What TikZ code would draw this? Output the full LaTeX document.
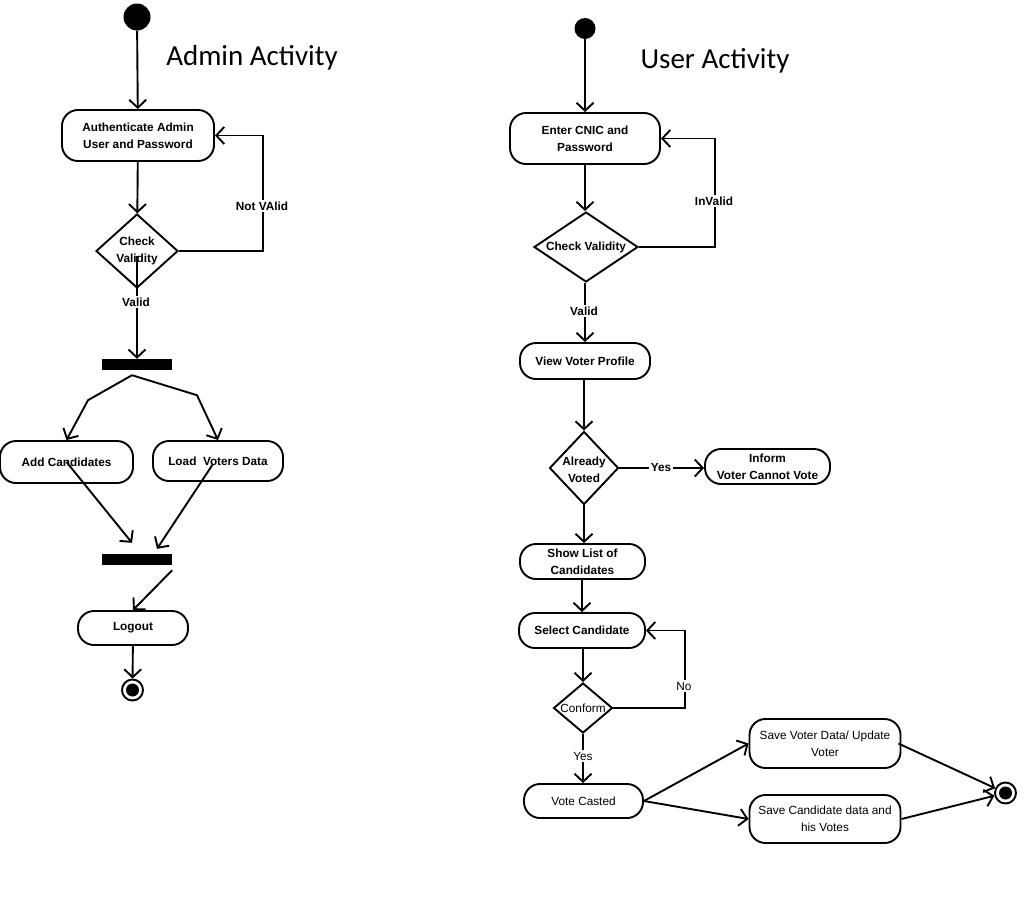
\documentclass[tikz,border=0pt]{standalone}
\usepackage{fontspec}
\setmainfont{Liberation Sans}
\newfontfamily\titlefont{Carlito}
\usetikzlibrary{arrows.meta,shapes.geometric,calc}
\newcommand\dlblfont{\fontsize{11.8}{17}\selectfont}
\begin{document}
\begin{tikzpicture}[x=1pt,y=-1pt,
  lw/.style={line width=1.9pt},
  arr/.style={lw,-{Straight Barb[length=8pt,width=17pt,line width=1.9pt]}},
  act/.style={draw,lw,rounded corners=16pt,inner sep=0pt,align=center,font=\dlblfont},
  bd/.style={font=\dlblfont\bfseries},
  dia/.style={draw,lw,diamond,inner sep=0pt},
  txt/.style={align=center,inner sep=0pt,font=\dlblfont},
  tag/.style={fill=white,inner sep=1.5pt,font=\dlblfont},
  bar/.style={fill=black,inner sep=0pt,minimum width=70,minimum height=11},
  startdot/.style={circle,fill=black,inner sep=0pt},
  endc/.style={circle,draw,lw,fill=white,inner sep=0pt,minimum size=21},
  ttl/.style={font=\titlefont\fontsize{29}{32}\selectfont,inner sep=0pt}
]
\useasboundingbox (0,0) rectangle (1033,897);

% titles
\node[ttl] (t1) at (252,58) {Admin Activity};
\node[ttl] (t2) at (715,61) {User Activity};

% ---------- Admin activity ----------
\node[startdot,minimum size=27] (s1) at (137,17) {};
\node[act,bd,minimum width=152,minimum height=51] (auth) at (138,135.5) {Authenticate Admin\\User and Password};
\node[dia,minimum width=82,minimum height=74] (d1) at (137,251) {};
\node[txt,bd] (d1t) at (d1) {Check\\Validity};
\node[bar] (fork1) at (137,364.5) {};
\node[act,bd,minimum width=133,minimum height=42] (ac) at (66.5,462) {Add Candidates};
\node[act,bd,minimum width=130,minimum height=40] (lv) at (218,461) {Load~ Voters Data};
\node[bar] (join1) at (137,559.5) {};
\node[act,bd,minimum width=110,minimum height=34] (logout) at (133,628) {Logout};
\node[endc] (e1) at (132.5,690) {};
\fill (e1.center) circle (6.5pt);

\draw[arr] (s1) -- (auth);
\draw[arr] (auth) -- (d1);
\draw[arr] (d1.east) -| ([xshift=48pt]auth.east) -- (auth.east);
\draw[arr] ([yshift=-5pt]d1.center) -- (fork1.north);
\draw[arr] ([xshift=-5pt,yshift=-5pt]fork1.south) -- ++(-44,25) -- (ac.north);
\draw[arr] ([xshift=-5pt,yshift=-5pt]fork1.south) -- ++(65,20) -- (lv.north);
\draw[arr] (ac.center) -- ([xshift=-5pt,yshift=11pt]join1.north);
\draw[arr] ([xshift=-5pt,yshift=-3pt]lv.center) -- ([xshift=20pt,yshift=5pt]join1.north);
\draw[arr] ([yshift=-5pt]join1.south east) -- (logout.north);
\draw[arr] (logout) -- (e1);

\node[tag,bd] (nv) at (262,206) {Not VAlid};
\node[tag,bd] (v1) at (136,302) {Valid};

% ---------- User activity ----------
\node[startdot,minimum size=21] (s2) at (585,28.5) {};
\node[act,bd,minimum width=150,minimum height=51] (cnic) at (585,138.5) {Enter CNIC and\\Password};
\node[dia,minimum width=104,minimum height=70] (d2) at (586,247) {};
\node[act,bd,minimum width=130,minimum height=36] (vvp) at (585,361) {View Voter Profile};
\node[dia,minimum width=69,minimum height=73] (d3) at (584,468) {};
\node[act,bd,minimum width=125,minimum height=35] (inform) at (767.5,466.5) {Inform\\Voter Cannot Vote};
\node[act,bd,minimum width=125,minimum height=35] (slc) at (582.5,561.5) {Show List of\\Candidates};
\node[act,bd,minimum width=126,minimum height=35] (sel) at (582,630.5) {Select Candidate};
\node[dia,minimum width=59,minimum height=50] (d4) at (583,708) {};
\node[act,minimum width=119,minimum height=34] (vc) at (583.5,801) {Vote Casted};
\node[act,minimum width=151,minimum height=49] (svd) at (825,743.5) {Save Voter Data/ Update\\Voter};
\node[act,minimum width=151,minimum height=48] (scd) at (825,819) {Save Candidate data and\\his Votes};
\node[endc] (e2) at (1005.5,793) {};
\fill (e2.center) circle (6.5pt);

\draw[arr] (s2) -- (cnic);
\draw[arr] (cnic) -- (d2.north -| cnic.south);
\draw[arr] (d2.east) -| ([xshift=54pt]cnic.east) -- (cnic.east);
\draw[arr] (d2.south -| vvp.north) -- (vvp.north);
\draw[arr] (vvp.south -| d3.north) -- (d3.north);
\draw[arr] (d3.east) -- (d3.east -| inform.west);
\draw[arr] (d3.south) -- (d3.south |- slc.north);
\draw[arr] (slc.south -| sel.north) -- (sel.north);
\draw[arr] (sel.south -| d4.north) -- (d4.north);
\draw[arr] (d4.east) -| ([xshift=39pt]sel.east) -- (sel.east);
\draw[arr] (d4.south) -- (d4.south |- vc.north);
\draw[arr] (vc.east) -- (svd.west);
\draw[arr] (vc.east) -- (scd.west);
\draw[arr] ([xshift=-3pt]svd.east) -- (e2);
\draw[arr] (scd.east) -- (e2);

\node[txt,bd] (d2t) at (d2) {Check Validity};
\node[txt,bd] (d3t) at ([yshift=-1.5pt]d3.center) {Already\\Voted};
\node[txt] (d4t) at (d4) {Conform};
\node[tag,bd] (iv) at (714,201) {InValid};
\node[tag,bd] (v2) at (584,311) {Valid};
\node[tag,bd] (y1) at (661,467) {Yes};
\node[tag] (no) at (684,686) {No};
\node[tag] (y2) at (583,756) {Yes};
\end{tikzpicture}
\end{document}
